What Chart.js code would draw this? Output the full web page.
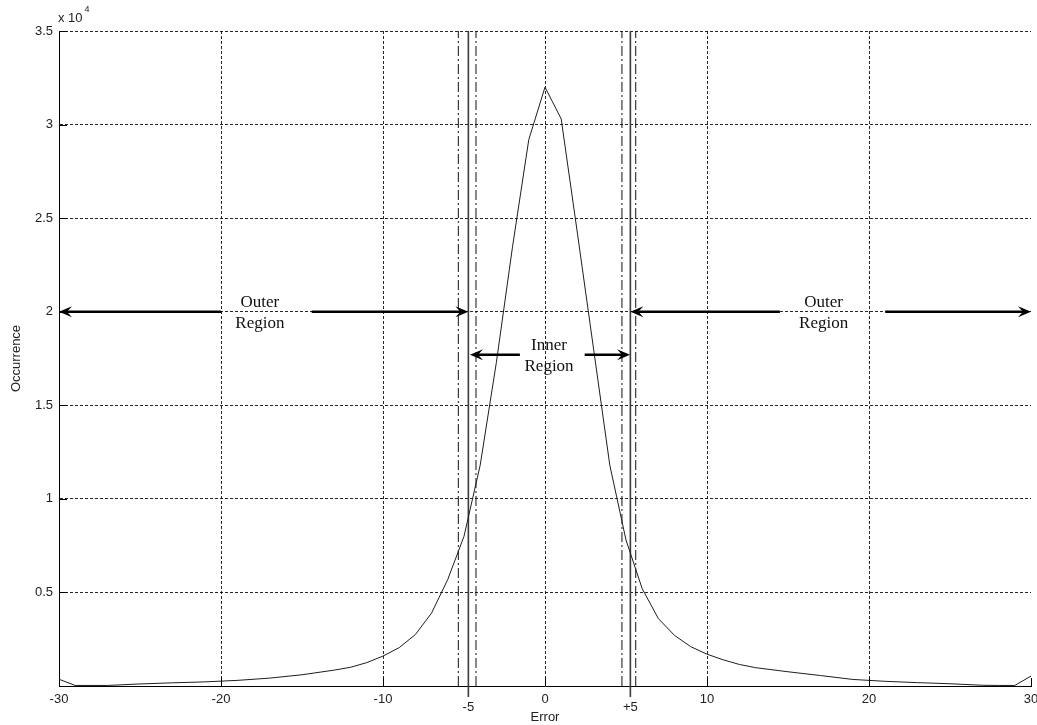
<!DOCTYPE html>
<html><head><meta charset="utf-8">
<script src="https://cdn.jsdelivr.net/npm/chart.js@4.4.0/dist/chart.umd.min.js"></script>
<style>html,body{margin:0;padding:0;background:#fff;}canvas{display:block;}</style>
</head><body>
<canvas id="c" width="1037" height="725"></canvas>
<script>
// ---- data ----
const errorValues = [-30,-29,-27,-25,-23,-21,-19,-17,-15,-13,-12,-11,-10,-9,-8,-7,-6,-5,-4,-3,-2,-1,0,1,2,3,4,5,6,7,8,9,10,11,12,13,15,17,19,21,23,25,27,28,29,30];
const occurrences = [360,30,30,110,170,220,300,420,600,850,1000,1250,1600,2050,2750,3900,5700,8000,11800,17300,23500,29200,32000,30300,24200,18000,11800,7800,5200,3600,2700,2100,1700,1400,1150,980,760,560,350,250,180,120,40,30,30,530];
const xTickValues = [-30,-20,-10,0,10,20,30];
const xTickLabels = ['-30','-20','-10','0','10','20','30'];
const yTickValues = [5000,10000,15000,20000,25000,30000,35000];
const yTickLabels = ['0.5','1','1.5','2','2.5','3','3.5'];
const yExponentBase = 'x 10';
const yExponent = '4';
const solidBounds = [-4.73, 5.27];
const solidBoundLabels = ['-5', '+5'];
const dashDotBounds = [-5.35, -4.26, 4.75, 5.6];
const arrowY = [20000, 20000, 17700];
const arrowFrom = [-30, 5.27, -4.63];
const arrowTo = [-4.73, 30, 5.25];
const arrowGapStart = [-20, 14.5, -1.55];
const arrowGapEnd = [-14.4, 21, 2.45];
const arrowTextX = [-17.6, 17.2, 0.25];
const arrowText = [['Outer','Region'], ['Outer','Region'], ['Inner','Region']];
const xMin = -30, xMax = 30, yMin = 0, yMax = 35000;

const SANS = '"Liberation Sans", Arial, sans-serif';
const SERIF = '"Liberation Serif", "Times New Roman", serif';
const TXT = '#222';

const datasets = [{
  data: errorValues.map((x, i) => ({x, y: occurrences[i]})),
  borderColor: '#1e1e1e', borderWidth: 1, pointRadius: 0, tension: 0, fill: false
}];
solidBounds.forEach(b => datasets.push({
  data: [{x: b, y: yMin}, {x: b, y: yMax}],
  borderColor: '#3a3a3a', borderWidth: 1.6, pointRadius: 0, fill: false
}));
dashDotBounds.forEach(b => datasets.push({
  data: [{x: b, y: yMin}, {x: b, y: yMax}],
  borderColor: '#111', borderWidth: 1, borderDash: [10, 3, 2, 3], pointRadius: 0, fill: false
}));

function arrowHead(ctx, x, y, dir) {
  const L = 13, W = 5.5, N = 8;
  ctx.beginPath();
  ctx.moveTo(x, y);
  ctx.lineTo(x - dir * L, y - W);
  ctx.lineTo(x - dir * N, y);
  ctx.lineTo(x - dir * L, y + W);
  ctx.closePath();
  ctx.fill();
}

const annot = {
  id: 'annot',
  afterDatasetsDraw(chart) {
    const ctx = chart.ctx, xs = chart.scales.x, ys = chart.scales.y;
    ctx.save();
    ctx.strokeStyle = '#000'; ctx.fillStyle = '#000'; ctx.lineWidth = 2.6;
    for (let i = 0; i < arrowY.length; i++) {
      const y = ys.getPixelForValue(arrowY[i]);
      const x1 = xs.getPixelForValue(arrowFrom[i]);
      const x2 = xs.getPixelForValue(arrowTo[i]);
      const g1 = xs.getPixelForValue(arrowGapStart[i]);
      const g2 = xs.getPixelForValue(arrowGapEnd[i]);
      ctx.beginPath();
      ctx.moveTo(x1 + 8, y); ctx.lineTo(g1, y);
      ctx.moveTo(g2, y); ctx.lineTo(x2 - 8, y);
      ctx.stroke();
      arrowHead(ctx, x1, y, -1);
      arrowHead(ctx, x2, y, 1);
      ctx.font = '17px ' + SERIF;
      ctx.textAlign = 'center'; ctx.textBaseline = 'middle';
      ctx.fillStyle = '#111';
      const tx = xs.getPixelForValue(arrowTextX[i]);
      ctx.fillText(arrowText[i][0], tx, y - 9);
      ctx.fillText(arrowText[i][1], tx, y + 12);
      ctx.fillStyle = '#000';
    }
    ctx.restore();
  },
  afterDraw(chart) {
    const ctx = chart.ctx, xs = chart.scales.x, ys = chart.scales.y;
    const area = chart.chartArea;
    ctx.save();
    // inside tick marks
    ctx.strokeStyle = '#000'; ctx.lineWidth = 1;
    ctx.beginPath();
    xTickValues.forEach(v => {
      if (v === xMin) return;
      const x = Math.round(xs.getPixelForValue(v)) + 0.5;
      ctx.moveTo(x, area.bottom); ctx.lineTo(x, area.bottom - 8);
    });
    yTickValues.forEach(v => {
      const y = Math.round(ys.getPixelForValue(v)) + 0.5;
      ctx.moveTo(area.left, y); ctx.lineTo(area.left + 8, y);
    });
    ctx.stroke();
    // solid boundary extensions + labels
    ctx.strokeStyle = '#3a3a3a'; ctx.lineWidth = 1.6;
    ctx.font = '13px ' + SANS; ctx.fillStyle = TXT;
    ctx.textAlign = 'center'; ctx.textBaseline = 'middle';
    solidBounds.forEach((b, i) => {
      const x = xs.getPixelForValue(b);
      ctx.beginPath(); ctx.moveTo(x, area.bottom); ctx.lineTo(x, area.bottom + 11); ctx.stroke();
      ctx.fillText(solidBoundLabels[i], x, area.bottom + 21);
    });
    // exponent label
    ctx.textAlign = 'left'; ctx.textBaseline = 'middle';
    ctx.font = '13px ' + SANS;
    ctx.fillText(yExponentBase, area.left - 1, area.top - 13);
    const w = ctx.measureText(yExponentBase).width;
    ctx.font = '9px ' + SANS;
    ctx.fillText(yExponent, area.left - 1 + w + 2, area.top - 21);
    ctx.restore();
  }
};

new Chart(document.getElementById('c'), {
  type: 'line',
  data: {datasets},
  plugins: [annot],
  options: {
    responsive: false, animation: false, devicePixelRatio: 1,
    layout: {padding: {left: 0, top: 31, right: 6, bottom: 0}},
    plugins: {legend: {display: false}, tooltip: {enabled: false}},
    scales: {
      x: {
        type: 'linear', min: xMin, max: xMax,
        afterBuildTicks(s) { s.ticks = xTickValues.map(v => ({value: v})); },
        afterFit(s) { s.height = 39; s.paddingLeft = 0; s.paddingRight = 0; },
        ticks: {
          padding: 6, color: TXT, font: {family: SANS, size: 13}, maxRotation: 0, autoSkip: false,
          callback(v) { const i = xTickValues.indexOf(v); return i >= 0 ? xTickLabels[i] : ''; }
        },
        grid: {
          drawTicks: false, lineWidth: 1,
          color(c) { return (c.tick && (c.tick.value === xMin || c.tick.value === xMax)) ? 'rgba(0,0,0,0)' : 'rgba(0,0,0,0.85)'; }
        },
        border: {display: true, color: '#000', width: 1, dash: [3, 2]},
        title: {display: true, text: 'Error', color: TXT, font: {family: SANS, size: 13}, padding: {top: 0, bottom: 0}}
      },
      y: {
        type: 'linear', min: yMin, max: yMax,
        afterBuildTicks(s) { s.ticks = [yMin].concat(yTickValues).map(v => ({value: v})); },
        afterFit(s) { s.width = 59; s.paddingTop = 0; s.paddingBottom = 0; },
        ticks: {
          padding: 6, color: TXT, font: {family: SANS, size: 13},
          callback(v) { const i = yTickValues.indexOf(v); return i >= 0 ? yTickLabels[i] : ''; }
        },
        grid: {
          drawTicks: false, lineWidth: 1,
          color(c) { return (c.tick && c.tick.value === yMin) ? 'rgba(0,0,0,0)' : 'rgba(0,0,0,0.85)'; }
        },
        border: {display: true, color: '#000', width: 1, dash: [3, 2]},
        title: {display: true, text: 'Occurrence', color: TXT, font: {family: SANS, size: 13}, padding: {top: 9, bottom: 0}}
      }
    }
  }
});
</script>
</body></html>
